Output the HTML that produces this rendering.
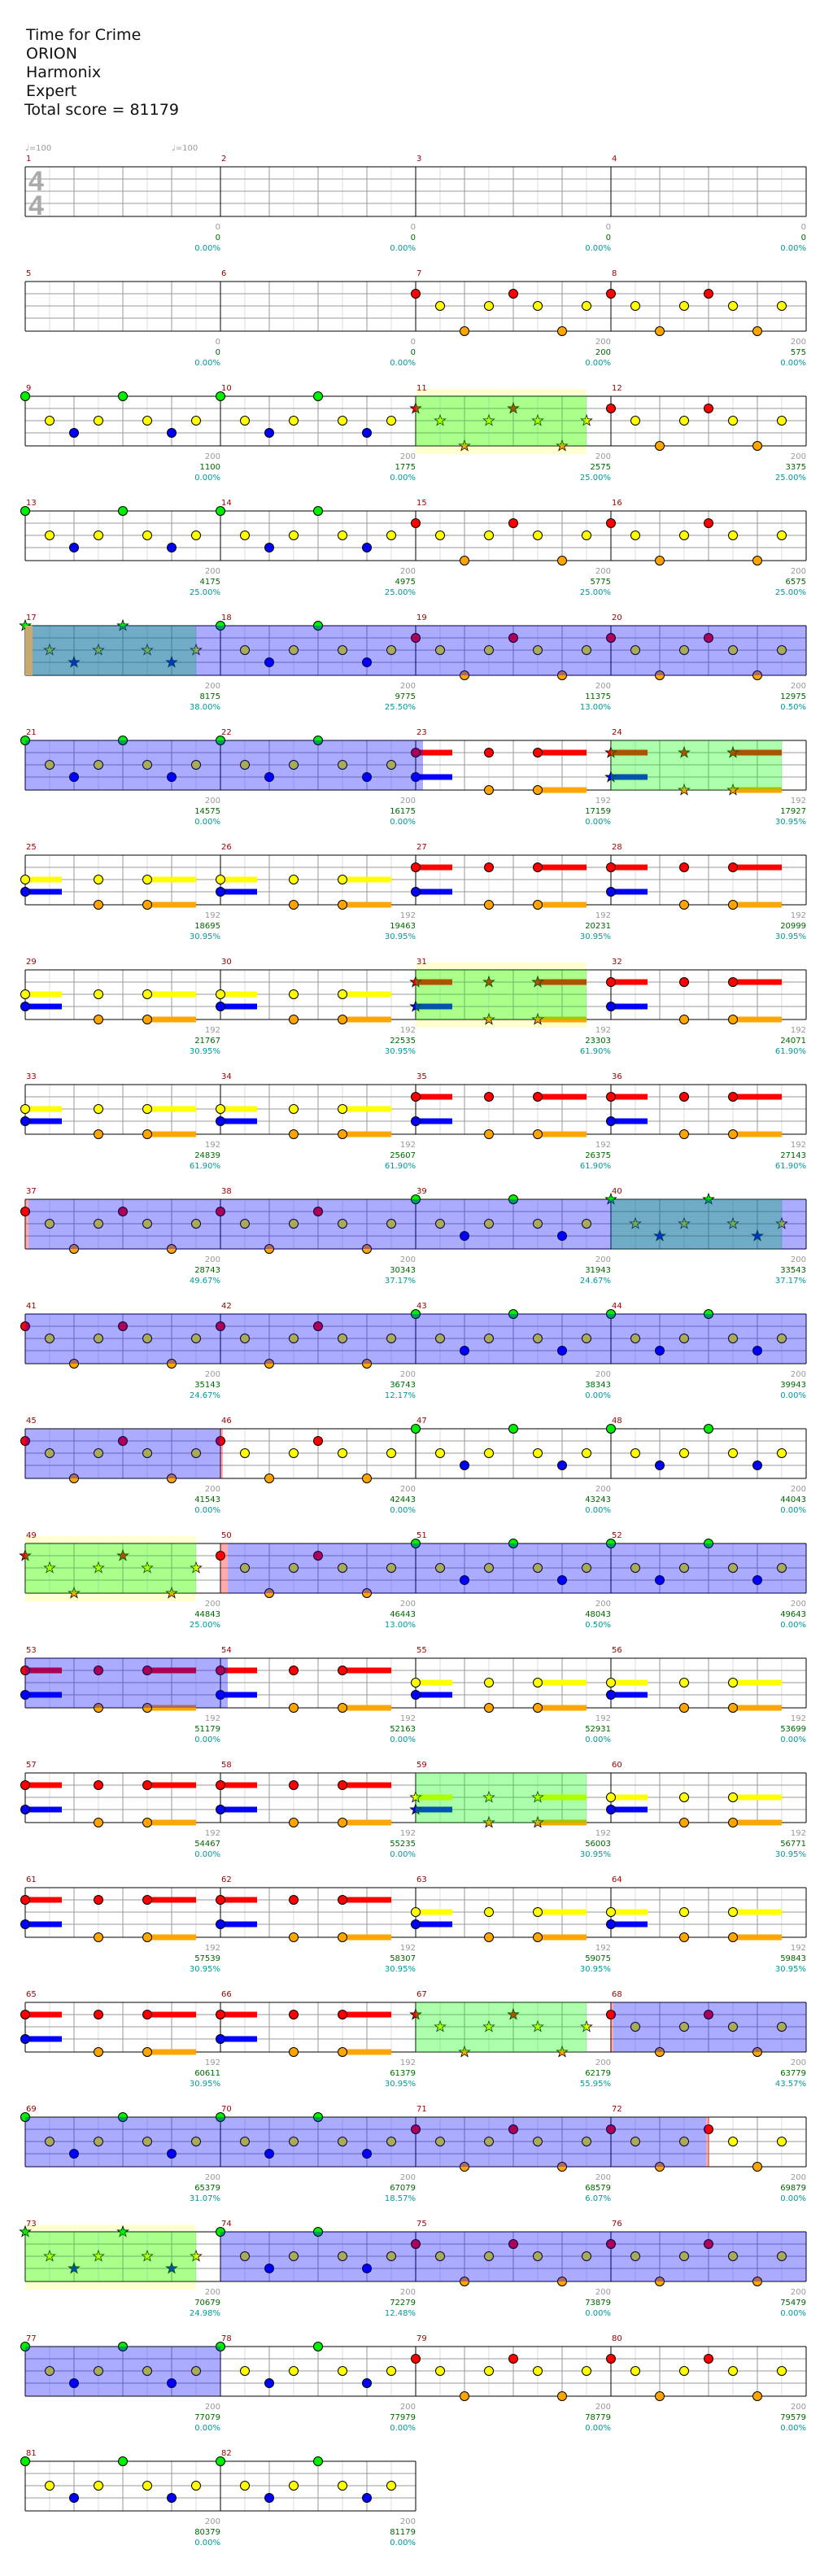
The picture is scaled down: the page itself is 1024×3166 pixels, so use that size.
<!DOCTYPE html>
<html><head><meta charset="utf-8"><style>
html,body{margin:0;padding:0;background:#fff}
svg{display:block}
.h{font-family:"DejaVu Sans","Liberation Sans",sans-serif;font-size:19px;fill:#111}
.m{font-family:"DejaVu Sans","Liberation Sans",sans-serif;font-size:10px;fill:#900}
.g,.s,.p{font-family:"DejaVu Sans","Liberation Sans",sans-serif;font-size:10px;text-anchor:end}
.g{fill:#999}.s{fill:#060}.p{fill:#099}
.t{font-family:"DejaVu Sans","Liberation Sans",sans-serif;font-size:10px;fill:#999}
.ts{font-family:"Liberation Sans",sans-serif;font-size:34px;font-weight:bold;fill:#aaa}
</style></head><body>
<svg xmlns="http://www.w3.org/2000/svg" xmlns:xlink="http://www.w3.org/1999/xlink" width="1024" height="3166" viewBox="0 0 1024 3166">
<defs>
<circle id="c" r="5.5" stroke="#000" stroke-width="1"/>
<path id="s" d="M0-7L1.65-2.27 6.66-2.16 2.66.87 4.11 5.66 0 2.8-4.11 5.66-2.66.87-6.66-2.16-1.65-2.27Z" stroke="#000" stroke-width=".8"/>
<g id="grid" shape-rendering="crispEdges" fill="none">
<path d="M30 0v61M90 0v61M150 0v61M210 0v61M270 0v61M330 0v61M390 0v61M450 0v61M510 0v61M570 0v61M630 0v61M690 0v61M750 0v61M810 0v61M870 0v61M930 0v61" stroke="#ddd"/>
<path d="M60 0v61M120 0v61M180 0v61M300 0v61M360 0v61M420 0v61M540 0v61M600 0v61M660 0v61M780 0v61M840 0v61M900 0v61" stroke="#999"/>
<path d="M0 15h960M0 30h960M0 45h960" stroke="#999"/>
<path d="M0 0v61M240 0v61M480 0v61M720 0v61M960 0v61M0 0h960M0 61h960" stroke="#000" stroke-width="1.3"/>
</g>
<g id="grid2" shape-rendering="crispEdges" fill="none">
<path d="M30 0v61M90 0v61M150 0v61M210 0v61M270 0v61M330 0v61M390 0v61M450 0v61" stroke="#ddd"/>
<path d="M60 0v61M120 0v61M180 0v61M300 0v61M360 0v61M420 0v61" stroke="#999"/>
<path d="M0 15h480M0 30h480M0 45h480" stroke="#999"/>
<path d="M0 0v61M240 0v61M480 0v61M0 0h480M0 61h480" stroke="#000" stroke-width="1.3"/>
</g>
<g id="PR"><use href="#c" x="0" y="15" fill="#f00"/><use href="#c" x="30" y="30" fill="#ff0"/><use href="#c" x="60" y="61" fill="#ffa500"/><use href="#c" x="90" y="30" fill="#ff0"/><use href="#c" x="120" y="15" fill="#f00"/><use href="#c" x="150" y="30" fill="#ff0"/><use href="#c" x="180" y="61" fill="#ffa500"/><use href="#c" x="210" y="30" fill="#ff0"/></g>
<g id="SR"><use href="#s" x="0" y="15" fill="#f00"/><use href="#s" x="30" y="30" fill="#ff0"/><use href="#s" x="60" y="61" fill="#ffa500"/><use href="#s" x="90" y="30" fill="#ff0"/><use href="#s" x="120" y="15" fill="#f00"/><use href="#s" x="150" y="30" fill="#ff0"/><use href="#s" x="180" y="61" fill="#ffa500"/><use href="#s" x="210" y="30" fill="#ff0"/></g>
<g id="PG"><use href="#c" x="0" y="0" fill="#0e0"/><use href="#c" x="30" y="30" fill="#ff0"/><use href="#c" x="60" y="45" fill="#00f"/><use href="#c" x="90" y="30" fill="#ff0"/><use href="#c" x="120" y="0" fill="#0e0"/><use href="#c" x="150" y="30" fill="#ff0"/><use href="#c" x="180" y="45" fill="#00f"/><use href="#c" x="210" y="30" fill="#ff0"/></g>
<g id="SG"><use href="#s" x="0" y="0" fill="#0e0"/><use href="#s" x="30" y="30" fill="#ff0"/><use href="#s" x="60" y="45" fill="#00f"/><use href="#s" x="90" y="30" fill="#ff0"/><use href="#s" x="120" y="0" fill="#0e0"/><use href="#s" x="150" y="30" fill="#ff0"/><use href="#s" x="180" y="45" fill="#00f"/><use href="#s" x="210" y="30" fill="#ff0"/></g>
<g id="PS"><rect x="0" y="11.5" width="45" height="7" fill="#f00"/><rect x="150" y="11.5" width="60" height="7" fill="#f00"/><rect x="0" y="41.5" width="45" height="7" fill="#00f"/><rect x="150" y="57.5" width="60" height="7" fill="#ffa500"/><use href="#c" x="0" y="15" fill="#f00"/><use href="#c" x="90" y="15" fill="#f00"/><use href="#c" x="150" y="15" fill="#f00"/><use href="#c" x="0" y="45" fill="#00f"/><use href="#c" x="90" y="61" fill="#ffa500"/><use href="#c" x="150" y="61" fill="#ffa500"/></g>
<g id="SS"><rect x="0" y="11.5" width="45" height="7" fill="#f00"/><rect x="150" y="11.5" width="60" height="7" fill="#f00"/><rect x="0" y="41.5" width="45" height="7" fill="#00f"/><rect x="150" y="57.5" width="60" height="7" fill="#ffa500"/><use href="#s" x="0" y="15" fill="#f00"/><use href="#s" x="90" y="15" fill="#f00"/><use href="#s" x="150" y="15" fill="#f00"/><use href="#s" x="0" y="45" fill="#00f"/><use href="#s" x="90" y="61" fill="#ffa500"/><use href="#s" x="150" y="61" fill="#ffa500"/></g>
<g id="PY"><rect x="0" y="26.5" width="45" height="7" fill="#ff0"/><rect x="150" y="26.5" width="60" height="7" fill="#ff0"/><rect x="0" y="41.5" width="45" height="7" fill="#00f"/><rect x="150" y="57.5" width="60" height="7" fill="#ffa500"/><use href="#c" x="0" y="30" fill="#ff0"/><use href="#c" x="90" y="30" fill="#ff0"/><use href="#c" x="150" y="30" fill="#ff0"/><use href="#c" x="0" y="45" fill="#00f"/><use href="#c" x="90" y="61" fill="#ffa500"/><use href="#c" x="150" y="61" fill="#ffa500"/></g>
<g id="SY"><rect x="0" y="26.5" width="45" height="7" fill="#ff0"/><rect x="150" y="26.5" width="60" height="7" fill="#ff0"/><rect x="0" y="41.5" width="45" height="7" fill="#00f"/><rect x="150" y="57.5" width="60" height="7" fill="#ffa500"/><use href="#s" x="0" y="30" fill="#ff0"/><use href="#s" x="90" y="30" fill="#ff0"/><use href="#s" x="150" y="30" fill="#ff0"/><use href="#s" x="0" y="45" fill="#00f"/><use href="#s" x="90" y="61" fill="#ffa500"/><use href="#s" x="150" y="61" fill="#ffa500"/></g>
</defs>

<text class="h" x="32" y="49">Time for Crime</text>
<text class="h" x="32" y="72">ORION</text>
<text class="h" x="32" y="95">Harmonix</text>
<text class="h" x="32" y="118">Expert</text>
<text class="h" x="30" y="141">Total score = 81179</text>
<text class="t" x="31" y="185">♩=100</text>
<text class="t" x="211" y="185">♩=100</text>

<!-- row 0 -->
<g transform="translate(31,205)"><use href="#grid"/>
<text class="ts" x="4" y="29">4</text><text class="ts" x="4" y="59">4</text>
<text class="m" x="1" y="-7">1</text><text class="m" x="241" y="-7">2</text><text class="m" x="481" y="-7">3</text><text class="m" x="721" y="-7">4</text>
<text class="g" x="240" y="77">0</text><text class="s" x="240" y="90">0</text><text class="p" x="240" y="103">0.00%</text>
<text class="g" x="480" y="77">0</text><text class="s" x="480" y="90">0</text><text class="p" x="480" y="103">0.00%</text>
<text class="g" x="720" y="77">0</text><text class="s" x="720" y="90">0</text><text class="p" x="720" y="103">0.00%</text>
<text class="g" x="960" y="77">0</text><text class="s" x="960" y="90">0</text><text class="p" x="960" y="103">0.00%</text>
</g>
<!-- row 1 -->
<g transform="translate(31,346)"><use href="#grid"/>
<use href="#PR" x="480"/><use href="#PR" x="720"/>
<text class="m" x="1" y="-7">5</text><text class="m" x="241" y="-7">6</text><text class="m" x="481" y="-7">7</text><text class="m" x="721" y="-7">8</text>
<text class="g" x="240" y="77">0</text><text class="s" x="240" y="90">0</text><text class="p" x="240" y="103">0.00%</text>
<text class="g" x="480" y="77">0</text><text class="s" x="480" y="90">0</text><text class="p" x="480" y="103">0.00%</text>
<text class="g" x="720" y="77">200</text><text class="s" x="720" y="90">200</text><text class="p" x="720" y="103">0.00%</text>
<text class="g" x="960" y="77">200</text><text class="s" x="960" y="90">575</text><text class="p" x="960" y="103">0.00%</text>
</g>
<!-- row 2 -->
<g transform="translate(31,487)"><rect x="480" y="-9" width="210" height="80" fill="#ffffd0"/><use href="#grid"/>
<use href="#PG" x="0"/><use href="#PG" x="240"/><use href="#SR" x="480"/><use href="#PR" x="720"/>
<rect x="480" y="0" width="210" height="61" fill="rgba(0,255,0,.33)"/>
<text class="m" x="1" y="-7">9</text><text class="m" x="241" y="-7">10</text><text class="m" x="481" y="-7">11</text><text class="m" x="721" y="-7">12</text>
<text class="g" x="240" y="77">200</text><text class="s" x="240" y="90">1100</text><text class="p" x="240" y="103">0.00%</text>
<text class="g" x="480" y="77">200</text><text class="s" x="480" y="90">1775</text><text class="p" x="480" y="103">0.00%</text>
<text class="g" x="720" y="77">200</text><text class="s" x="720" y="90">2575</text><text class="p" x="720" y="103">25.00%</text>
<text class="g" x="960" y="77">200</text><text class="s" x="960" y="90">3375</text><text class="p" x="960" y="103">25.00%</text>
</g>
<!-- row 3 -->
<g transform="translate(31,628)"><use href="#grid"/>
<use href="#PG" x="0"/><use href="#PG" x="240"/><use href="#PR" x="480"/><use href="#PR" x="720"/>
<text class="m" x="1" y="-7">13</text><text class="m" x="241" y="-7">14</text><text class="m" x="481" y="-7">15</text><text class="m" x="721" y="-7">16</text>
<text class="g" x="240" y="77">200</text><text class="s" x="240" y="90">4175</text><text class="p" x="240" y="103">25.00%</text>
<text class="g" x="480" y="77">200</text><text class="s" x="480" y="90">4975</text><text class="p" x="480" y="103">25.00%</text>
<text class="g" x="720" y="77">200</text><text class="s" x="720" y="90">5775</text><text class="p" x="720" y="103">25.00%</text>
<text class="g" x="960" y="77">200</text><text class="s" x="960" y="90">6575</text><text class="p" x="960" y="103">25.00%</text>
</g>
<!-- row 4 -->
<g transform="translate(31,769)"><use href="#grid"/>
<use href="#SG" x="0"/><use href="#PG" x="240"/><use href="#PR" x="480"/><use href="#PR" x="720"/>
<rect x="0" y="0" width="210" height="61" fill="rgba(0,255,0,.33)"/>
<rect x="9" y="0" width="951" height="61" fill="rgba(0,0,255,.33)"/>
<rect x="0" y="0" width="9" height="61" fill="#c8aa70"/>
<text class="m" x="1" y="-7">17</text><text class="m" x="241" y="-7">18</text><text class="m" x="481" y="-7">19</text><text class="m" x="721" y="-7">20</text>
<text class="g" x="240" y="77">200</text><text class="s" x="240" y="90">8175</text><text class="p" x="240" y="103">38.00%</text>
<text class="g" x="480" y="77">200</text><text class="s" x="480" y="90">9775</text><text class="p" x="480" y="103">25.50%</text>
<text class="g" x="720" y="77">200</text><text class="s" x="720" y="90">11375</text><text class="p" x="720" y="103">13.00%</text>
<text class="g" x="960" y="77">200</text><text class="s" x="960" y="90">12975</text><text class="p" x="960" y="103">0.50%</text>
</g>
<!-- row 5 -->
<g transform="translate(31,910)"><use href="#grid"/>
<use href="#PG" x="0"/><use href="#PG" x="240"/><use href="#PS" x="480"/><use href="#SS" x="720"/>
<rect x="720" y="0" width="210" height="61" fill="rgba(0,255,0,.33)"/>
<rect x="0" y="0" width="489" height="61" fill="rgba(0,0,255,.33)"/>
<text class="m" x="1" y="-7">21</text><text class="m" x="241" y="-7">22</text><text class="m" x="481" y="-7">23</text><text class="m" x="721" y="-7">24</text>
<text class="g" x="240" y="77">200</text><text class="s" x="240" y="90">14575</text><text class="p" x="240" y="103">0.00%</text>
<text class="g" x="480" y="77">200</text><text class="s" x="480" y="90">16175</text><text class="p" x="480" y="103">0.00%</text>
<text class="g" x="720" y="77">192</text><text class="s" x="720" y="90">17159</text><text class="p" x="720" y="103">0.00%</text>
<text class="g" x="960" y="77">192</text><text class="s" x="960" y="90">17927</text><text class="p" x="960" y="103">30.95%</text>
</g>
<!-- row 6 -->
<g transform="translate(31,1051)"><use href="#grid"/>
<use href="#PY" x="0"/><use href="#PY" x="240"/><use href="#PS" x="480"/><use href="#PS" x="720"/>
<text class="m" x="1" y="-7">25</text><text class="m" x="241" y="-7">26</text><text class="m" x="481" y="-7">27</text><text class="m" x="721" y="-7">28</text>
<text class="g" x="240" y="77">192</text><text class="s" x="240" y="90">18695</text><text class="p" x="240" y="103">30.95%</text>
<text class="g" x="480" y="77">192</text><text class="s" x="480" y="90">19463</text><text class="p" x="480" y="103">30.95%</text>
<text class="g" x="720" y="77">192</text><text class="s" x="720" y="90">20231</text><text class="p" x="720" y="103">30.95%</text>
<text class="g" x="960" y="77">192</text><text class="s" x="960" y="90">20999</text><text class="p" x="960" y="103">30.95%</text>
</g>
<!-- row 7 -->
<g transform="translate(31,1192)"><rect x="480" y="-9" width="210" height="80" fill="#ffffd0"/><use href="#grid"/>
<use href="#PY" x="0"/><use href="#PY" x="240"/><use href="#SS" x="480"/><use href="#PS" x="720"/>
<rect x="480" y="0" width="210" height="61" fill="rgba(0,255,0,.33)"/>
<text class="m" x="1" y="-7">29</text><text class="m" x="241" y="-7">30</text><text class="m" x="481" y="-7">31</text><text class="m" x="721" y="-7">32</text>
<text class="g" x="240" y="77">192</text><text class="s" x="240" y="90">21767</text><text class="p" x="240" y="103">30.95%</text>
<text class="g" x="480" y="77">192</text><text class="s" x="480" y="90">22535</text><text class="p" x="480" y="103">30.95%</text>
<text class="g" x="720" y="77">192</text><text class="s" x="720" y="90">23303</text><text class="p" x="720" y="103">61.90%</text>
<text class="g" x="960" y="77">192</text><text class="s" x="960" y="90">24071</text><text class="p" x="960" y="103">61.90%</text>
</g>
<!-- row 8 -->
<g transform="translate(31,1333)"><use href="#grid"/>
<use href="#PY" x="0"/><use href="#PY" x="240"/><use href="#PS" x="480"/><use href="#PS" x="720"/>
<text class="m" x="1" y="-7">33</text><text class="m" x="241" y="-7">34</text><text class="m" x="481" y="-7">35</text><text class="m" x="721" y="-7">36</text>
<text class="g" x="240" y="77">192</text><text class="s" x="240" y="90">24839</text><text class="p" x="240" y="103">61.90%</text>
<text class="g" x="480" y="77">192</text><text class="s" x="480" y="90">25607</text><text class="p" x="480" y="103">61.90%</text>
<text class="g" x="720" y="77">192</text><text class="s" x="720" y="90">26375</text><text class="p" x="720" y="103">61.90%</text>
<text class="g" x="960" y="77">192</text><text class="s" x="960" y="90">27143</text><text class="p" x="960" y="103">61.90%</text>
</g>
<!-- row 9 -->
<g transform="translate(31,1474)"><use href="#grid"/>
<use href="#PR" x="0"/><use href="#PR" x="240"/><use href="#PG" x="480"/><use href="#SG" x="720"/>
<rect x="720" y="0" width="210" height="61" fill="rgba(0,255,0,.33)"/>
<rect x="4" y="0" width="956" height="61" fill="rgba(0,0,255,.33)"/>
<rect x="0" y="0" width="4" height="61" fill="rgba(255,0,0,.33)"/>
<text class="m" x="1" y="-7">37</text><text class="m" x="241" y="-7">38</text><text class="m" x="481" y="-7">39</text><text class="m" x="721" y="-7">40</text>
<text class="g" x="240" y="77">200</text><text class="s" x="240" y="90">28743</text><text class="p" x="240" y="103">49.67%</text>
<text class="g" x="480" y="77">200</text><text class="s" x="480" y="90">30343</text><text class="p" x="480" y="103">37.17%</text>
<text class="g" x="720" y="77">200</text><text class="s" x="720" y="90">31943</text><text class="p" x="720" y="103">24.67%</text>
<text class="g" x="960" y="77">200</text><text class="s" x="960" y="90">33543</text><text class="p" x="960" y="103">37.17%</text>
</g>
<!-- row 10 -->
<g transform="translate(31,1615)"><use href="#grid"/>
<use href="#PR" x="0"/><use href="#PR" x="240"/><use href="#PG" x="480"/><use href="#PG" x="720"/>
<rect x="0" y="0" width="960" height="61" fill="rgba(0,0,255,.33)"/>
<text class="m" x="1" y="-7">41</text><text class="m" x="241" y="-7">42</text><text class="m" x="481" y="-7">43</text><text class="m" x="721" y="-7">44</text>
<text class="g" x="240" y="77">200</text><text class="s" x="240" y="90">35143</text><text class="p" x="240" y="103">24.67%</text>
<text class="g" x="480" y="77">200</text><text class="s" x="480" y="90">36743</text><text class="p" x="480" y="103">12.17%</text>
<text class="g" x="720" y="77">200</text><text class="s" x="720" y="90">38343</text><text class="p" x="720" y="103">0.00%</text>
<text class="g" x="960" y="77">200</text><text class="s" x="960" y="90">39943</text><text class="p" x="960" y="103">0.00%</text>
</g>
<!-- row 11 -->
<g transform="translate(31,1756)"><use href="#grid"/>
<use href="#PR" x="0"/><use href="#PR" x="240"/><use href="#PG" x="480"/><use href="#PG" x="720"/>
<rect x="0" y="0" width="240" height="61" fill="rgba(0,0,255,.33)"/>
<rect x="240" y="0" width="3" height="61" fill="rgba(255,0,0,.33)"/>
<text class="m" x="1" y="-7">45</text><text class="m" x="241" y="-7">46</text><text class="m" x="481" y="-7">47</text><text class="m" x="721" y="-7">48</text>
<text class="g" x="240" y="77">200</text><text class="s" x="240" y="90">41543</text><text class="p" x="240" y="103">0.00%</text>
<text class="g" x="480" y="77">200</text><text class="s" x="480" y="90">42443</text><text class="p" x="480" y="103">0.00%</text>
<text class="g" x="720" y="77">200</text><text class="s" x="720" y="90">43243</text><text class="p" x="720" y="103">0.00%</text>
<text class="g" x="960" y="77">200</text><text class="s" x="960" y="90">44043</text><text class="p" x="960" y="103">0.00%</text>
</g>
<!-- row 12 -->
<g transform="translate(31,1897)"><rect x="0" y="-9" width="210" height="80" fill="#ffffd0"/><use href="#grid"/>
<use href="#SR" x="0"/><use href="#PR" x="240"/><use href="#PG" x="480"/><use href="#PG" x="720"/>
<rect x="0" y="0" width="210" height="61" fill="rgba(0,255,0,.33)"/>
<rect x="240" y="0" width="9" height="61" fill="rgba(255,0,0,.33)"/>
<rect x="249" y="0" width="711" height="61" fill="rgba(0,0,255,.33)"/>
<text class="m" x="1" y="-7">49</text><text class="m" x="241" y="-7">50</text><text class="m" x="481" y="-7">51</text><text class="m" x="721" y="-7">52</text>
<text class="g" x="240" y="77">200</text><text class="s" x="240" y="90">44843</text><text class="p" x="240" y="103">25.00%</text>
<text class="g" x="480" y="77">200</text><text class="s" x="480" y="90">46443</text><text class="p" x="480" y="103">13.00%</text>
<text class="g" x="720" y="77">200</text><text class="s" x="720" y="90">48043</text><text class="p" x="720" y="103">0.50%</text>
<text class="g" x="960" y="77">200</text><text class="s" x="960" y="90">49643</text><text class="p" x="960" y="103">0.00%</text>
</g>
<!-- row 13 -->
<g transform="translate(31,2038)"><use href="#grid"/>
<use href="#PS" x="0"/><use href="#PS" x="240"/><use href="#PY" x="480"/><use href="#PY" x="720"/>
<rect x="0" y="0" width="249" height="61" fill="rgba(0,0,255,.33)"/>
<text class="m" x="1" y="-7">53</text><text class="m" x="241" y="-7">54</text><text class="m" x="481" y="-7">55</text><text class="m" x="721" y="-7">56</text>
<text class="g" x="240" y="77">192</text><text class="s" x="240" y="90">51179</text><text class="p" x="240" y="103">0.00%</text>
<text class="g" x="480" y="77">192</text><text class="s" x="480" y="90">52163</text><text class="p" x="480" y="103">0.00%</text>
<text class="g" x="720" y="77">192</text><text class="s" x="720" y="90">52931</text><text class="p" x="720" y="103">0.00%</text>
<text class="g" x="960" y="77">192</text><text class="s" x="960" y="90">53699</text><text class="p" x="960" y="103">0.00%</text>
</g>
<!-- row 14 -->
<g transform="translate(31,2179)"><use href="#grid"/>
<use href="#PS" x="0"/><use href="#PS" x="240"/><use href="#SY" x="480"/><use href="#PY" x="720"/>
<rect x="480" y="0" width="210" height="61" fill="rgba(0,255,0,.33)"/>
<text class="m" x="1" y="-7">57</text><text class="m" x="241" y="-7">58</text><text class="m" x="481" y="-7">59</text><text class="m" x="721" y="-7">60</text>
<text class="g" x="240" y="77">192</text><text class="s" x="240" y="90">54467</text><text class="p" x="240" y="103">0.00%</text>
<text class="g" x="480" y="77">192</text><text class="s" x="480" y="90">55235</text><text class="p" x="480" y="103">0.00%</text>
<text class="g" x="720" y="77">192</text><text class="s" x="720" y="90">56003</text><text class="p" x="720" y="103">30.95%</text>
<text class="g" x="960" y="77">192</text><text class="s" x="960" y="90">56771</text><text class="p" x="960" y="103">30.95%</text>
</g>
<!-- row 15 -->
<g transform="translate(31,2320)"><use href="#grid"/>
<use href="#PS" x="0"/><use href="#PS" x="240"/><use href="#PY" x="480"/><use href="#PY" x="720"/>
<text class="m" x="1" y="-7">61</text><text class="m" x="241" y="-7">62</text><text class="m" x="481" y="-7">63</text><text class="m" x="721" y="-7">64</text>
<text class="g" x="240" y="77">192</text><text class="s" x="240" y="90">57539</text><text class="p" x="240" y="103">30.95%</text>
<text class="g" x="480" y="77">192</text><text class="s" x="480" y="90">58307</text><text class="p" x="480" y="103">30.95%</text>
<text class="g" x="720" y="77">192</text><text class="s" x="720" y="90">59075</text><text class="p" x="720" y="103">30.95%</text>
<text class="g" x="960" y="77">192</text><text class="s" x="960" y="90">59843</text><text class="p" x="960" y="103">30.95%</text>
</g>
<!-- row 16 -->
<g transform="translate(31,2461)"><use href="#grid"/>
<use href="#PS" x="0"/><use href="#PS" x="240"/><use href="#SR" x="480"/><use href="#PR" x="720"/>
<rect x="480" y="0" width="210" height="61" fill="rgba(0,255,0,.33)"/>
<rect x="720" y="0" width="3" height="61" fill="rgba(255,0,0,.33)"/>
<rect x="723" y="0" width="237" height="61" fill="rgba(0,0,255,.33)"/>
<text class="m" x="1" y="-7">65</text><text class="m" x="241" y="-7">66</text><text class="m" x="481" y="-7">67</text><text class="m" x="721" y="-7">68</text>
<text class="g" x="240" y="77">192</text><text class="s" x="240" y="90">60611</text><text class="p" x="240" y="103">30.95%</text>
<text class="g" x="480" y="77">192</text><text class="s" x="480" y="90">61379</text><text class="p" x="480" y="103">30.95%</text>
<text class="g" x="720" y="77">200</text><text class="s" x="720" y="90">62179</text><text class="p" x="720" y="103">55.95%</text>
<text class="g" x="960" y="77">200</text><text class="s" x="960" y="90">63779</text><text class="p" x="960" y="103">43.57%</text>
</g>
<!-- row 17 -->
<g transform="translate(31,2602)"><use href="#grid"/>
<use href="#PG" x="0"/><use href="#PG" x="240"/><use href="#PR" x="480"/><use href="#PR" x="720"/>
<rect x="0" y="0" width="837" height="61" fill="rgba(0,0,255,.33)"/>
<rect x="837" y="0" width="4" height="61" fill="rgba(255,0,0,.33)"/>
<text class="m" x="1" y="-7">69</text><text class="m" x="241" y="-7">70</text><text class="m" x="481" y="-7">71</text><text class="m" x="721" y="-7">72</text>
<text class="g" x="240" y="77">200</text><text class="s" x="240" y="90">65379</text><text class="p" x="240" y="103">31.07%</text>
<text class="g" x="480" y="77">200</text><text class="s" x="480" y="90">67079</text><text class="p" x="480" y="103">18.57%</text>
<text class="g" x="720" y="77">200</text><text class="s" x="720" y="90">68579</text><text class="p" x="720" y="103">6.07%</text>
<text class="g" x="960" y="77">200</text><text class="s" x="960" y="90">69879</text><text class="p" x="960" y="103">0.00%</text>
</g>
<!-- row 18 -->
<g transform="translate(31,2743)"><rect x="0" y="-9" width="210" height="80" fill="#ffffd0"/><use href="#grid"/>
<use href="#SG" x="0"/><use href="#PG" x="240"/><use href="#PR" x="480"/><use href="#PR" x="720"/>
<rect x="0" y="0" width="210" height="61" fill="rgba(0,255,0,.33)"/>
<rect x="240" y="0" width="720" height="61" fill="rgba(0,0,255,.33)"/>
<text class="m" x="1" y="-7">73</text><text class="m" x="241" y="-7">74</text><text class="m" x="481" y="-7">75</text><text class="m" x="721" y="-7">76</text>
<text class="g" x="240" y="77">200</text><text class="s" x="240" y="90">70679</text><text class="p" x="240" y="103">24.98%</text>
<text class="g" x="480" y="77">200</text><text class="s" x="480" y="90">72279</text><text class="p" x="480" y="103">12.48%</text>
<text class="g" x="720" y="77">200</text><text class="s" x="720" y="90">73879</text><text class="p" x="720" y="103">0.00%</text>
<text class="g" x="960" y="77">200</text><text class="s" x="960" y="90">75479</text><text class="p" x="960" y="103">0.00%</text>
</g>
<!-- row 19 -->
<g transform="translate(31,2884)"><use href="#grid"/>
<use href="#PG" x="0"/><use href="#PG" x="240"/><use href="#PR" x="480"/><use href="#PR" x="720"/>
<rect x="0" y="0" width="240" height="61" fill="rgba(0,0,255,.33)"/>
<text class="m" x="1" y="-7">77</text><text class="m" x="241" y="-7">78</text><text class="m" x="481" y="-7">79</text><text class="m" x="721" y="-7">80</text>
<text class="g" x="240" y="77">200</text><text class="s" x="240" y="90">77079</text><text class="p" x="240" y="103">0.00%</text>
<text class="g" x="480" y="77">200</text><text class="s" x="480" y="90">77979</text><text class="p" x="480" y="103">0.00%</text>
<text class="g" x="720" y="77">200</text><text class="s" x="720" y="90">78779</text><text class="p" x="720" y="103">0.00%</text>
<text class="g" x="960" y="77">200</text><text class="s" x="960" y="90">79579</text><text class="p" x="960" y="103">0.00%</text>
</g>
<!-- row 20 -->
<g transform="translate(31,3025)"><use href="#grid2"/>
<use href="#PG" x="0"/><use href="#PG" x="240"/>
<text class="m" x="1" y="-7">81</text><text class="m" x="241" y="-7">82</text>
<text class="g" x="240" y="77">200</text><text class="s" x="240" y="90">80379</text><text class="p" x="240" y="103">0.00%</text>
<text class="g" x="480" y="77">200</text><text class="s" x="480" y="90">81179</text><text class="p" x="480" y="103">0.00%</text>
</g>
</svg>
</body></html>
